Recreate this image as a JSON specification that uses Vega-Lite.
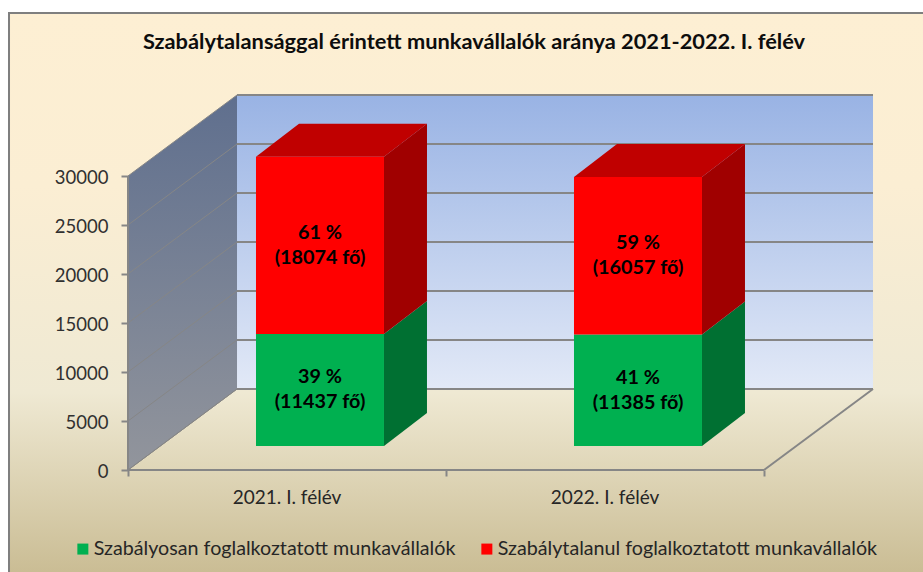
{
"$schema":"https://vega.github.io/schema/vega-lite/v6.json",
"width":923,"height":572,"autosize":"none","padding":0,"background":"white",
"title":{"text":"Szabálytalansággal érintett munkavállalók aránya 2021-2022. I. félév","anchor":"middle","frame":"group","dx":12.5,"offset":-54,"font":"Lato","fontSize":21.8,"fontWeight":"bold","color":"#0d0d0d"},
"config":{"view":{"stroke":null},"font":"Lato"},
"layer":[
{"data":{"values":[{}]},"mark":{"type":"rect","stroke":"#7f7f7f","strokeWidth":2,"fill":{"gradient":"linear","x1":0,"y1":0,"x2":0,"y2":1,"stops":[{"offset":0,"color":"#FDEFD3"},{"offset":0.3,"color":"#FBEED3"},{"offset":0.66,"color":"#EFE9D3"},{"offset":1,"color":"#C7B98F"}]}},
 "encoding":{
  "x":{"datum":-0.3742,"type":"quantitative","scale":{"domain":[-0.40252,2.5],"nice":false,"zero":false},"axis":{"values":[0,1,2],"labels":false,"title":null,"grid":false,"domain":false,"ticks":true,"tickSize":6,"tickWidth":2,"tickColor":"#868686","offset":-102,"zindex":1,"orient":"bottom"}},
  "x2":{"datum":2.6},
  "y":{"datum":46633,"type":"quantitative","scale":{"domain":[-10408,47959],"nice":false,"zero":false},"axis":{"values":[0,5000,10000,15000,20000,25000,30000],"format":"d","title":null,"grid":false,"domain":false,"tickSize":7,"tickWidth":2,"tickColor":"#868686","labelFont":"Lato","labelFontSize":18.5,"labelColor":"#303030","labelPadding":13,"labelOffset":1.5,"offset":-128,"zindex":1,"orient":"left"}},
  "y2":{"datum":-12000}}},
{"data":{"values":[{}]},"mark":{"type":"rect","fill":{"gradient":"linear","x1":0,"y1":0,"x2":0,"y2":1,"stops":[{"offset":0,"color":"#99B3E4"},{"offset":1,"color":"#E2E9F7"}]}},
 "encoding":{"x":{"datum":0.3428,"type":"quantitative"},"x2":{"datum":2.3428},"y":{"datum":38265,"type":"quantitative"},"y2":{"datum":8265}}},
{"data":{"values":[{"edge":0},{"edge":1}]},"transform":[{"calculate":"datum.edge*0.3428","as":"ex"},{"calculate":"datum.edge*8265","as":"elo"},{"calculate":"30000+datum.edge*8265","as":"ehi"}],
 "mark":{"type":"area","interpolate":"linear","fill":{"gradient":"linear","x1":0,"y1":0,"x2":0,"y2":1,"stops":[{"offset":0,"color":"#5F6F8E"},{"offset":1,"color":"#92959C"}]}},
 "encoding":{"x":{"field":"ex","type":"quantitative"},"y":{"field":"ehi","type":"quantitative"},"y2":{"field":"elo"}}},
{"data":{"values":[{"tick":0},{"tick":5000},{"tick":10000},{"tick":15000},{"tick":20000},{"tick":25000},{"tick":30000}]},"transform":[{"calculate":"datum.tick+8265","as":"back"}],
 "layer":[
 {"mark":{"type":"rule","stroke":"#868686","strokeWidth":2},"encoding":{"x":{"datum":0.3428,"type":"quantitative"},"x2":{"datum":2.3428},"y":{"field":"back","type":"quantitative"}}},
 {"mark":{"type":"rule","stroke":"#868686","strokeWidth":1},"encoding":{"x":{"datum":0,"type":"quantitative"},"x2":{"datum":0.3428},"y":{"field":"tick","type":"quantitative"},"y2":{"field":"back"}}}
 ]},
{"data":{"values":[{}]},"layer":[
 {"mark":{"type":"rule","stroke":"#868686","strokeWidth":2},"encoding":{"x":{"datum":0,"type":"quantitative"},"x2":{"datum":2},"y":{"datum":0,"type":"quantitative"},"y2":{"datum":0}}},
 {"mark":{"type":"rule","stroke":"#868686","strokeWidth":2},"encoding":{"x":{"datum":2,"type":"quantitative"},"x2":{"datum":2.3428},"y":{"datum":0,"type":"quantitative"},"y2":{"datum":8265}}},
 {"mark":{"type":"rule","stroke":"#868686","strokeWidth":1},"encoding":{"x":{"datum":0,"type":"quantitative"},"x2":{"datum":0.3428},"y":{"datum":0,"type":"quantitative"},"y2":{"datum":8265}}},
 {"mark":{"type":"rule","stroke":"#868686","strokeWidth":2},"encoding":{"x":{"datum":0,"type":"quantitative"},"x2":{"datum":0},"y":{"datum":0,"type":"quantitative"},"y2":{"datum":30000}}}
 ]},
{"data":{"values":[
 {"period":"2021. I. félév","series":"Szabályosan foglalkoztatott munkavállalók","value":11437,"pct":39},
 {"period":"2021. I. félév","series":"Szabálytalanul foglalkoztatott munkavállalók","value":18074,"pct":61},
 {"period":"2022. I. félév","series":"Szabályosan foglalkoztatott munkavállalók","value":11385,"pct":41},
 {"period":"2022. I. félév","series":"Szabálytalanul foglalkoztatott munkavállalók","value":16057,"pct":59}]},
 "transform":[
  {"stack":"value","groupby":["period"],"sort":[{"field":"series","order":"ascending"}],"as":["v0","v1"]},
  {"calculate":"toNumber(substring(datum.period,0,4))-2021","as":"i"},
  {"calculate":"datum.i+0.4025","as":"x0"},
  {"calculate":"datum.i+0.805","as":"x1"},
  {"calculate":"datum.i+0.5","as":"xc"},
  {"calculate":"datum.v0+2449","as":"y0"},
  {"calculate":"datum.v1+2449","as":"y1"},
  {"calculate":"(datum.x0+datum.x1)/2","as":"xm"},
  {"calculate":"(datum.y0+datum.y1)/2","as":"ym"},
  {"calculate":"datum.pct+' %\\n('+datum.value+' fő)'","as":"lab"}],
 "layer":[
 {"transform":[{"calculate":"[0,1]","as":"c"},{"flatten":["c"]},{"calculate":"datum.x1+datum.c*0.1352","as":"sx"},{"calculate":"datum.y0+datum.c*3367","as":"slo"},{"calculate":"datum.y1+datum.c*3367","as":"shi"}],
  "mark":{"type":"area","interpolate":"linear"},
  "encoding":{"x":{"field":"sx","type":"quantitative"},"y":{"field":"shi","type":"quantitative"},"y2":{"field":"slo"},"detail":[{"field":"period"},{"field":"series"}],
   "fill":{"condition":{"test":"datum.pct<50","value":"#007032"},"value":"#A00000"}}},
 {"transform":[{"filter":"datum.pct>50"},{"calculate":"[0,1,2,3]","as":"c"},{"flatten":["c"]},
   {"calculate":"datum.c==0?datum.x0:datum.c==1?datum.x0+0.1352:datum.c==2?datum.x1:datum.x1+0.1352","as":"tx"},
   {"calculate":"datum.c==3?datum.y1+3367:datum.y1","as":"tlo"},
   {"calculate":"datum.c==0?datum.y1:datum.y1+3367","as":"thi"}],
  "mark":{"type":"area","interpolate":"linear","fill":"#C00000"},
  "encoding":{"x":{"field":"tx","type":"quantitative"},"y":{"field":"thi","type":"quantitative"},"y2":{"field":"tlo"},"detail":{"field":"period"}}},
 {"mark":{"type":"rect"},
  "encoding":{"x":{"field":"x0","type":"quantitative"},"x2":{"field":"x1"},"y":{"field":"y0","type":"quantitative"},"y2":{"field":"y1"},
   "color":{"field":"series","type":"nominal","scale":{"domain":["Szabályosan foglalkoztatott munkavállalók","Szabálytalanul foglalkoztatott munkavállalók"],"range":["#00B050","#FF0000"]},
    "legend":{"title":null,"orient":"none","direction":"horizontal","legendX":73,"legendY":539,"symbolType":"square","symbolSize":121,"symbolStrokeWidth":0,"labelFont":"Lato","labelFontSize":19.7,"labelColor":"#262626","labelLimit":420,"columnPadding":21,"labelOffset":1,"padding":0,"columns":2}}}},
 {"mark":{"type":"text","font":"Lato","fontSize":19.8,"fontWeight":"bold","color":"#000000","lineBreak":"\n","lineHeight":25,"align":"center","baseline":"middle","dy":-12.5},
  "encoding":{"x":{"field":"xm","type":"quantitative"},"y":{"field":"ym","type":"quantitative"},"text":{"field":"lab"}}},
 {"transform":[{"filter":"datum.pct<50"}],"mark":{"type":"text","font":"Lato","fontSize":19,"color":"#262626","align":"center","baseline":"middle","dy":28},
  "encoding":{"x":{"field":"xc","type":"quantitative"},"y":{"datum":0,"type":"quantitative"},"text":{"field":"period"}}}
 ]}
]}
